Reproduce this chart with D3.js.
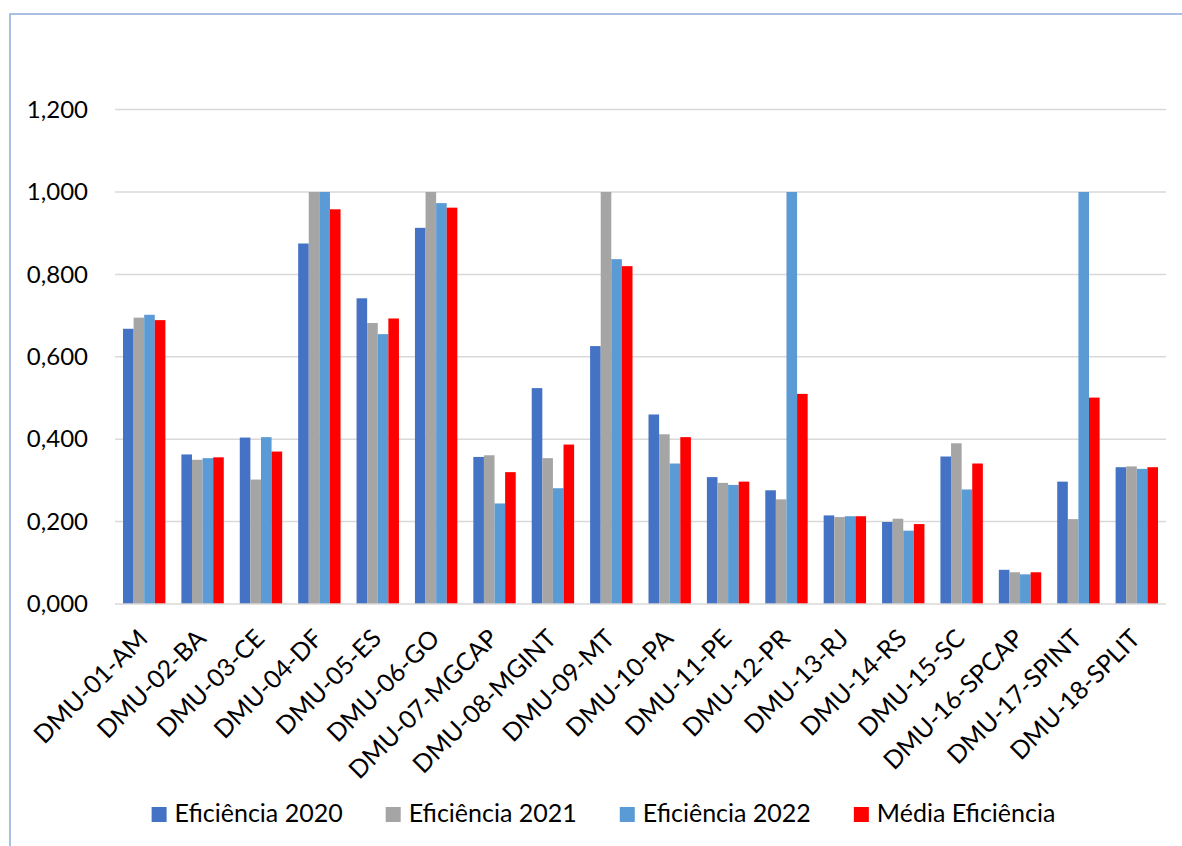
<!DOCTYPE html>
<html>
<head>
<meta charset="utf-8">
<script src="https://cdn.jsdelivr.net/npm/d3@7"></script>
<style>
  html, body { margin: 0; padding: 0; background: #ffffff; }
  svg { display: block; font-family: Lato, "Open Sans", sans-serif; }
</style>
</head>
<body>
<svg id="chart" width="1182" height="846"></svg>
<script>
// Efficiency scores per DMU
const categories = ["DMU-01-AM", "DMU-02-BA", "DMU-03-CE", "DMU-04-DF", "DMU-05-ES", "DMU-06-GO",
  "DMU-07-MGCAP", "DMU-08-MGINT", "DMU-09-MT", "DMU-10-PA", "DMU-11-PE", "DMU-12-PR",
  "DMU-13-RJ", "DMU-14-RS", "DMU-15-SC", "DMU-16-SPCAP", "DMU-17-SPINT", "DMU-18-SPLIT"];

const seriesNames = ["Eficiência 2020", "Eficiência 2021", "Eficiência 2022", "Média Eficiência"];

const eff2020 = [0.668, 0.363, 0.404, 0.875, 0.742, 0.913, 0.357, 0.524, 0.626, 0.460, 0.308, 0.276, 0.215, 0.199, 0.358, 0.083, 0.297, 0.332];
const eff2021 = [0.695, 0.350, 0.302, 1.000, 0.682, 1.000, 0.361, 0.354, 1.000, 0.412, 0.294, 0.254, 0.211, 0.207, 0.390, 0.077, 0.206, 0.334];
const eff2022 = [0.702, 0.354, 0.405, 1.000, 0.655, 0.973, 0.244, 0.281, 0.837, 0.341, 0.289, 1.000, 0.213, 0.178, 0.278, 0.072, 1.000, 0.328];
const effMean = [0.689, 0.356, 0.370, 0.958, 0.693, 0.962, 0.320, 0.387, 0.820, 0.405, 0.297, 0.510, 0.213, 0.194, 0.341, 0.077, 0.501, 0.332];

const yTickValues = [0, 0.2, 0.4, 0.6, 0.8, 1.0, 1.2];
const yTickLabels = ["0,000", "0,200", "0,400", "0,600", "0,800", "1,000", "1,200"];

const colors = ["#4472c4", "#a5a5a5", "#5b9bd5", "#ff0000"];

const series = [eff2020, eff2021, eff2022, effMean];

const svg = d3.select("#chart");

// outer chart frame
svg.append("rect")
  .attr("x", 10).attr("y", 14)
  .attr("width", 1250).attr("height", 900)
  .attr("fill", "#ffffff")
  .attr("stroke", "#8faadc")
  .attr("stroke-width", 1.5);

const plot = { left: 115, right: 1166, top: 109.6, bottom: 604 };

const x0 = d3.scaleBand()
  .domain(categories)
  .range([plot.left, plot.right])
  .paddingInner(0.274)
  .paddingOuter(0.137);

const x1 = d3.scaleBand()
  .domain(d3.range(series.length))
  .range([0, x0.bandwidth()]);

const y = d3.scaleLinear()
  .domain([0, 1.2])
  .range([plot.bottom, plot.top]);

// gridlines
svg.append("g")
  .selectAll("line")
  .data(yTickValues.filter(v => v > 0))
  .join("line")
  .attr("x1", plot.left).attr("x2", plot.right)
  .attr("y1", d => y(d)).attr("y2", d => y(d))
  .attr("stroke", "#d9d9d9")
  .attr("stroke-width", 1.5);

// y axis labels
const yAxis = d3.axisLeft(y)
  .tickValues(yTickValues)
  .tickFormat((d, i) => yTickLabels[i])
  .tickSize(0)
  .tickPadding(27);

const yg = svg.append("g")
  .attr("transform", `translate(${plot.left},0)`)
  .call(yAxis);
yg.select(".domain").remove();
yg.selectAll("text")
  .attr("font-size", 24)
  .attr("fill", "#000000")
  .attr("font-family", "Lato, sans-serif");

// bars
const groups = svg.append("g")
  .selectAll("g")
  .data(categories)
  .join("g")
  .attr("transform", d => `translate(${x0(d)},0)`);

groups.selectAll("rect")
  .data((d, i) => series.map((s, k) => ({ k, v: s[i] })))
  .join("rect")
  .attr("x", d => x1(d.k))
  .attr("width", x1.bandwidth())
  .attr("y", d => y(d.v))
  .attr("height", d => y(0) - y(d.v))
  .attr("fill", d => colors[d.k]);

// category axis line
svg.append("line")
  .attr("x1", plot.left).attr("x2", plot.right)
  .attr("y1", y(0)).attr("y2", y(0))
  .attr("stroke", "#d9d9d9")
  .attr("stroke-width", 1.5);

// rotated category labels
svg.append("g")
  .selectAll("text")
  .data(categories)
  .join("text")
  .attr("transform", d => `translate(${x0(d) + x0.bandwidth() / 2 + 5},${plot.bottom + 36}) rotate(-45)`)
  .attr("text-anchor", "end")
  .attr("font-size", 25)
  .attr("fill", "#000000")
  .text(d => d);

// legend
const legend = svg.append("g");
const items = legend.selectAll("g")
  .data(seriesNames)
  .join("g");
items.append("rect")
  .attr("x", 0).attr("y", 807)
  .attr("width", 15).attr("height", 15)
  .attr("fill", (d, i) => colors[i]);
items.append("text")
  .attr("x", 23).attr("y", 822)
  .attr("font-size", 25)
  .attr("fill", "#000000")
  .text(d => d);

let cursor = 0;
const offsets = [];
items.each(function () {
  offsets.push(cursor);
  const w = d3.select(this).select("text").node().getComputedTextLength();
  cursor += 23 + w + 43;
});
const totalW = cursor - 43;
const startX = 603.5 - totalW / 2;
items.attr("transform", (d, i) => `translate(${startX + offsets[i]},0)`);
</script>
</body>
</html>
